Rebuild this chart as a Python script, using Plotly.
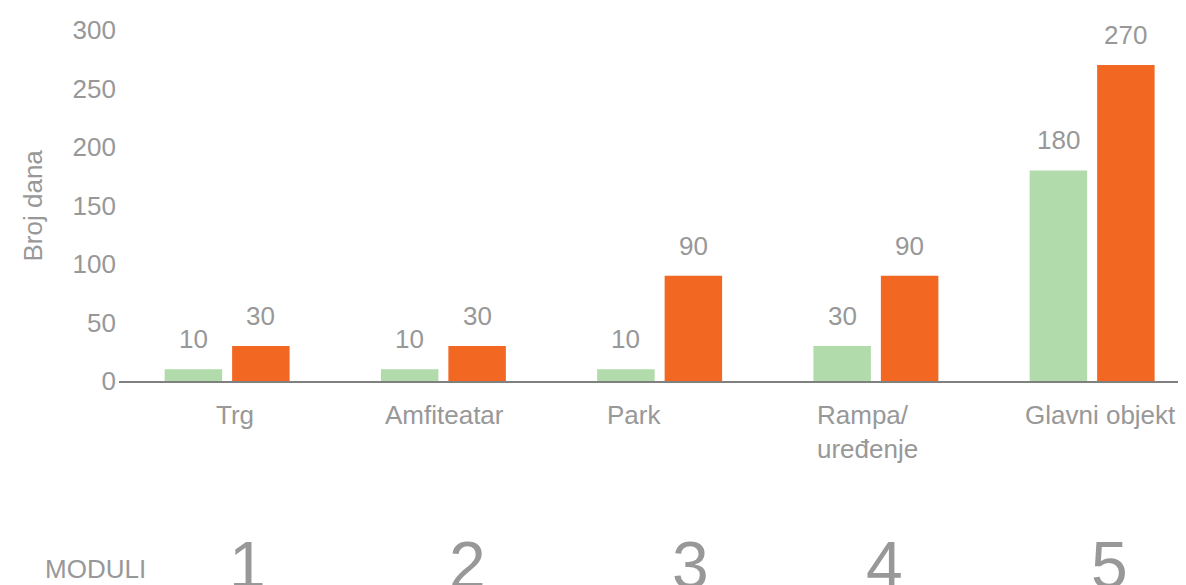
import plotly.graph_objects as go

# ---- data ----
categories = ["Trg", "Amfiteatar", "Park", "Rampa/<br>uređenje", "Glavni objekt"]
modules = ["1", "2", "3", "4", "5"]
series_green = [10, 10, 10, 30, 180]
series_orange = [30, 30, 90, 90, 270]
y_ticks = [0, 50, 100, 150, 200, 250, 300]
y_title = "Broj dana"
modules_title = "MODULI"

# ---- style ----
GREEN = "#B1DBAB"
ORANGE = "#F26722"
GREY = "#989898"
AXIS = "#808080"
FONT = "Liberation Sans, Arial, sans-serif"
FS = 26

xs = list(range(len(categories)))

fig = go.Figure()
fig.add_trace(go.Bar(x=xs, y=series_green, marker=dict(color=GREEN, line=dict(width=0)),
                     hoverinfo="skip", showlegend=False))
fig.add_trace(go.Bar(x=xs, y=series_orange, marker=dict(color=ORANGE, line=dict(width=0)),
                     hoverinfo="skip", showlegend=False))

bargap = 0.376
half = (1 - bargap) / 4.0  # offset of each bar centre from category centre

annotations = []
for i, v in enumerate(series_green):
    annotations.append(dict(x=i - half, y=v, xref="x", yref="y", text=str(v), showarrow=False,
                            yanchor="bottom", yshift=13, font=dict(size=FS, color=GREY, family=FONT)))
for i, v in enumerate(series_orange):
    annotations.append(dict(x=i + half, y=v, xref="x", yref="y", text=str(v), showarrow=False,
                            yanchor="bottom", yshift=13, font=dict(size=FS, color=GREY, family=FONT)))

cat_shift = [7.5, 1, -26, -61, 8.5]
cat_anchor = ["center", "center", "center", "left", "center"]
for i, c in enumerate(categories):
    annotations.append(dict(x=i, y=0, xref="x", yref="paper", text=c, showarrow=False,
                            xanchor=cat_anchor[i], align="left" if cat_anchor[i] == "left" else "center",
                            yanchor="top", xshift=cat_shift[i], yshift=-17,
                            font=dict(size=FS, color=GREY, family=FONT)))

mod_shift = [20.5, 24, 31, 9, 17.5]
for i, m in enumerate(modules):
    annotations.append(dict(x=i, y=0, xref="x", yref="paper", text=m, showarrow=False,
                            xanchor="center", yanchor="top", xshift=mod_shift[i], yshift=-145,
                            font=dict(size=66, color=GREY, family=FONT)))

annotations.append(dict(x=0, y=0, xref="paper", yref="paper", text=modules_title, showarrow=False,
                        xanchor="center", yanchor="top", xshift=-24, yshift=-170.5,
                        font=dict(size=FS, color=GREY, family=FONT)))

annotations.append(dict(x=0, y=0.5, xref="paper", yref="paper", text=y_title, showarrow=False,
                        textangle=-90, xanchor="center", yanchor="middle", xshift=-87,
                        font=dict(size=FS, color=GREY, family=FONT)))

# the page body adds an 8px margin; compensate so the plot area sits where the reference has it
fig.update_layout(
    width=1178, height=577,
    margin=dict(l=111, r=0, t=22, b=203.5, pad=0),
    paper_bgcolor="white", plot_bgcolor="white",
    barmode="group", bargap=bargap, bargroupgap=0.148,
    annotations=annotations,
    xaxis=dict(range=[-0.5, 4.434], showticklabels=False, showgrid=False, zeroline=False,
               showline=True, linecolor=AXIS, linewidth=1.5, ticks="", fixedrange=True),
    yaxis=dict(range=[0, 300], tickvals=y_ticks, showgrid=False, zeroline=False, showline=False,
               ticks="", tickfont=dict(size=FS, color=GREY, family=FONT), ticklabelstandoff=2),
    font=dict(family=FONT, color=GREY),
)

fig.write_html("out.html", config={"displayModeBar": False})
